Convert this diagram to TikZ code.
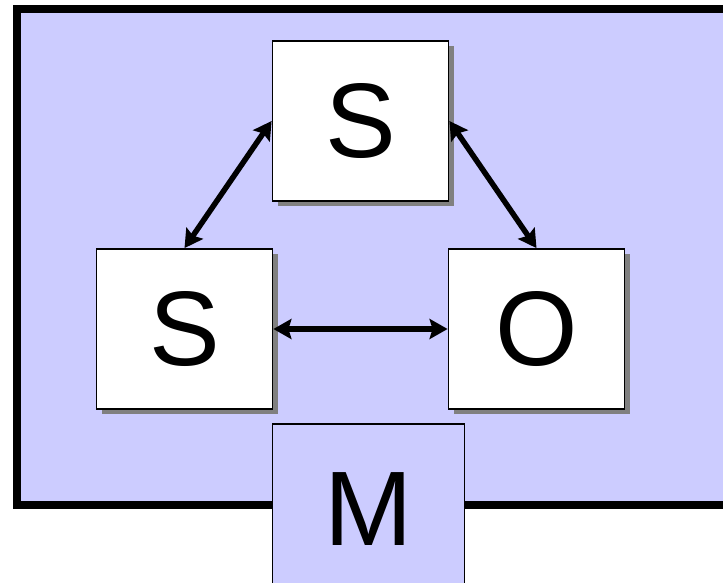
\documentclass[tikz,border=0pt]{standalone}
\usepackage{fontspec}
\setmainfont{Liberation Sans}
\usetikzlibrary{shadows,arrows.meta}
\definecolor{lavender}{RGB}{204,204,255}
\tikzset{
  box/.style={draw,line width=1.8pt,fill=white,minimum width=176pt,minimum height=160pt,inner sep=0pt,
    font=\fontsize{106}{110}\selectfont,
    drop shadow={shadow xshift=5pt,shadow yshift=-5pt,fill=gray,opacity=1}},
  link/.style={{Stealth[length=18pt,width=20pt,inset=3pt]}-{Stealth[length=18pt,width=20pt,inset=3pt]},line width=5.5pt}
}
\begin{document}
\begin{tikzpicture}[x=1pt,y=-1pt]
    \useasboundingbox (0,0) rectangle (723,583);
    \clip (0,0) rectangle (723,583);
    \draw[line width=8pt,fill=lavender] (17,9) rectangle (740,505);
    \node[box] at (360.5,121) (s1) {S};
    \node[box] at (184.5,329) (s2) {S};
    \node[box] at (536.5,329) (o) {O};
    \node[draw,line width=1.8pt,fill=lavender,minimum width=192pt,minimum height=170pt,inner sep=0pt,
        font=\fontsize{106}{110}\selectfont] at (368.5,509) (m) {M};
    \foreach \a/\b in {s1.west/s2.north,s1.east/o.north,s2.east/o.west}{
        \draw[link] (\a) -- (\b);
    }
\end{tikzpicture}
\end{document}
